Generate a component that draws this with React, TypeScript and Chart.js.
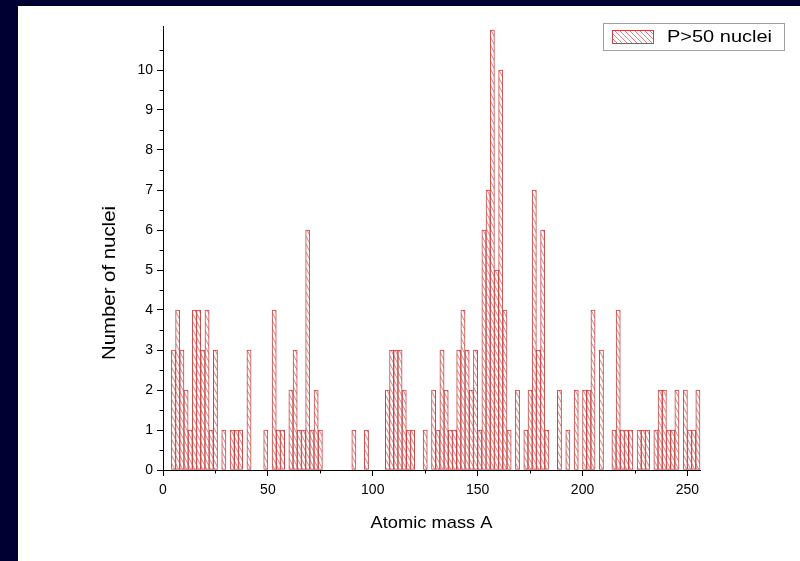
import { useEffect, useRef } from 'react';
import { Chart, registerables } from 'chart.js';

Chart.register(...registerables);

// Histogram bins (start of each 2-unit bin in atomic mass A)
const binStarts = [
  4, 6, 8, 10, 12, 14, 16, 18, 20, 22,
  24, 26, 28, 30, 32, 34, 36, 38, 40, 42,
  44, 46, 48, 50, 52, 54, 56, 58, 60, 62,
  64, 66, 68, 70, 72, 74, 76, 78, 80, 82,
  84, 86, 88, 90, 92, 94, 96, 98, 100, 102,
  104, 106, 108, 110, 112, 114, 116, 118, 120, 122,
  124, 126, 128, 130, 132, 134, 136, 138, 140, 142,
  144, 146, 148, 150, 152, 154, 156, 158, 160, 162,
  164, 166, 168, 170, 172, 174, 176, 178, 180, 182,
  184, 186, 188, 190, 192, 194, 196, 198, 200, 202,
  204, 206, 208, 210, 212, 214, 216, 218, 220, 222,
  224, 226, 228, 230, 232, 234, 236, 238, 240, 242,
  244, 246, 248, 250, 252, 254,
];

const counts = [
  3, 4, 3, 2, 1, 4, 4, 3, 4, 1,
  3, 0, 1, 0, 1, 1, 1, 0, 3, 0,
  0, 0, 1, 0, 4, 1, 1, 0, 2, 3,
  1, 1, 6, 1, 2, 1, 0, 0, 0, 0,
  0, 0, 0, 1, 0, 0, 1, 0, 0, 0,
  0, 2, 3, 3, 3, 2, 1, 1, 0, 0,
  1, 0, 2, 1, 3, 2, 1, 1, 3, 4,
  3, 2, 3, 1, 6, 7, 11, 5, 10, 4,
  1, 0, 2, 0, 1, 2, 7, 3, 6, 1,
  0, 0, 2, 0, 1, 0, 2, 0, 2, 2,
  4, 0, 3, 0, 0, 1, 4, 1, 1, 1,
  0, 1, 1, 1, 0, 1, 2, 2, 1, 1,
  2, 0, 2, 1, 1, 2,
];

const binWidth = 2;
const xTickValues = [0, 50, 100, 150, 200, 250];
const xMinorTickValues = [25, 75, 125, 175, 225];
const yTickValues = [0, 1, 2, 3, 4, 5, 6, 7, 8, 9, 10];
const yMinorTickValues = [0.5, 1.5, 2.5, 3.5, 4.5, 5.5, 6.5, 7.5, 8.5, 9.5, 10.5];
const seriesLabel = 'P>50 nuclei';
const xTitle = 'Atomic mass A';
const yTitle = 'Number of nuclei';

const FONT = "Arial, 'Liberation Sans', sans-serif";
const BAR_RED = '#c84444';
const HATCH_RED = 'rgba(205, 70, 70, 0.85)';

function makeBarHatch(ctx: CanvasRenderingContext2D): CanvasPattern | string {
  const w = 4;
  const h = 8;
  const c = document.createElement('canvas');
  c.width = w;
  c.height = h;
  const g = c.getContext('2d');
  if (!g) return '#fff';
  g.fillStyle = '#ffffff';
  g.fillRect(0, 0, w, h);
  g.strokeStyle = HATCH_RED;
  g.lineWidth = 0.8;
  g.beginPath();
  for (const dx of [-w, 0, w]) {
    g.moveTo(dx, 0);
    g.lineTo(dx + w, h);
  }
  g.stroke();
  return ctx.createPattern(c, 'repeat') || '#fff';
}

// draw text centred/left at (x,y), stretched along its own direction to a target length
function fitText(
  ctx: CanvasRenderingContext2D,
  text: string,
  x: number,
  y: number,
  size: number,
  targetWidth: number,
  align: 'left' | 'center',
  rotate = 0,
) {
  ctx.save();
  ctx.font = `${size}px ${FONT}`;
  const natural = ctx.measureText(text).width;
  const sx = targetWidth / natural;
  ctx.translate(x, y);
  if (rotate) ctx.rotate(rotate);
  ctx.scale(sx, 1);
  ctx.textAlign = align;
  ctx.textBaseline = 'middle';
  ctx.fillStyle = '#000';
  ctx.fillText(text, 0, 0);
  ctx.restore();
}

const backgroundPlugin = {
  id: 'pageBackground',
  beforeDraw(chart: any) {
    const { ctx, width, height } = chart;
    ctx.save();
    ctx.fillStyle = '#000033';
    ctx.fillRect(0, 0, width, height);
    ctx.fillStyle = '#ffffff';
    ctx.fillRect(18, 6, width - 18, height - 6);
    ctx.restore();
  },
};

const decorPlugin = {
  id: 'decor',
  afterDraw(chart: any) {
    const { ctx, chartArea } = chart;
    const xs = chart.scales.x;
    const ys = chart.scales.y;
    ctx.save();
    // minor ticks
    ctx.strokeStyle = '#000';
    ctx.lineWidth = 1;
    ctx.beginPath();
    for (const v of xMinorTickValues) {
      const px = Math.round(xs.getPixelForValue(v)) + 0.5;
      ctx.moveTo(px, chartArea.bottom);
      ctx.lineTo(px, chartArea.bottom + 3.5);
    }
    for (const v of yMinorTickValues) {
      const py = Math.round(ys.getPixelForValue(v)) + 0.5;
      ctx.moveTo(chartArea.left - 3.5, py);
      ctx.lineTo(chartArea.left, py);
    }
    ctx.stroke();

    // axis titles
    fitText(ctx, xTitle, (chartArea.left + chartArea.right) / 2, 523, 17, 122, 'center');
    fitText(ctx, yTitle, 110, 283, 18, 154, 'center', -Math.PI / 2);

    // legend
    const bx = 603.5, by = 23.5, bw = 181, bh = 27;
    ctx.fillStyle = '#fff';
    ctx.fillRect(bx, by, bw, bh);
    ctx.strokeStyle = '#a0a0a0';
    ctx.lineWidth = 1;
    ctx.strokeRect(bx, by, bw, bh);
    const sx = 612.5, sy = 30.5, sw = 41, sh = 13;
    ctx.save();
    ctx.beginPath();
    ctx.rect(sx, sy, sw, sh);
    ctx.clip();
    ctx.strokeStyle = HATCH_RED;
    ctx.lineWidth = 0.8;
    ctx.beginPath();
    for (let k = -sh; k < sw + sh; k += 5) {
      ctx.moveTo(sx + k, sy);
      ctx.lineTo(sx + k + sh, sy + sh);
    }
    ctx.stroke();
    ctx.restore();
    ctx.strokeStyle = BAR_RED;
    ctx.strokeRect(sx, sy, sw, sh);
    fitText(ctx, seriesLabel, 667, 37.5, 16, 105, 'left');
    ctx.restore();
  },
};

export default function App() {
  const ref = useRef<HTMLCanvasElement>(null);

  useEffect(() => {
    document.body.style.margin = '0';
    document.body.style.background = '#000033';
    const canvas = ref.current;
    if (!canvas) return;
    const ctx = canvas.getContext('2d');
    if (!ctx) return;
    const hatch = makeBarHatch(ctx);
    const data = binStarts.map((s, i) => ({
      x: s + binWidth / 2,
      y: counts[i] === 0 ? null : counts[i],
    }));

    const chart = new Chart(canvas, {
      type: 'bar',
      data: {
        datasets: [
          {
            label: seriesLabel,
            data: data as any,
            backgroundColor: hatch as any,
            borderColor: BAR_RED,
            borderWidth: 1,
            borderSkipped: false,
            barPercentage: 1,
            categoryPercentage: 1,
            clip: false as any,
          },
        ],
      },
      options: {
        responsive: false,
        animation: false,
        devicePixelRatio: 1,
        layout: { padding: { left: 0, right: 100, top: 26, bottom: 0 } },
        plugins: {
          legend: { display: false },
          tooltip: { enabled: false },
        },
        scales: {
          x: {
            type: 'linear',
            min: 0,
            max: 256,
            offset: false,
            afterBuildTicks: (s: any) => {
              s.ticks = xTickValues.map((v) => ({ value: v }));
            },
            afterFit: (s: any) => {
              s.height = 91;
            },
            grid: {
              display: true,
              drawOnChartArea: false,
              drawTicks: true,
              tickLength: 6,
              tickColor: '#000',
              offset: false,
            },
            border: { display: true, color: '#000', width: 1 },
            ticks: {
              autoSkip: false,
              maxRotation: 0,
              padding: 6,
              color: '#000',
              font: { family: FONT, size: 14 },
            },
          },
          y: {
            type: 'linear',
            min: 0,
            max: 11.1,
            afterBuildTicks: (s: any) => {
              s.ticks = yTickValues.map((v) => ({ value: v }));
            },
            afterFit: (s: any) => {
              s.width = 163;
            },
            grid: {
              display: true,
              drawOnChartArea: false,
              drawTicks: true,
              tickLength: 6,
              tickColor: '#000',
            },
            border: { display: true, color: '#000', width: 1 },
            ticks: {
              autoSkip: false,
              padding: 4,
              color: '#000',
              font: { family: FONT, size: 14 },
            },
          },
        },
      },
      plugins: [backgroundPlugin, decorPlugin],
    });

    return () => chart.destroy();
  }, []);

  return <canvas ref={ref} width={800} height={561} style={{ display: 'block' }} />;
}
